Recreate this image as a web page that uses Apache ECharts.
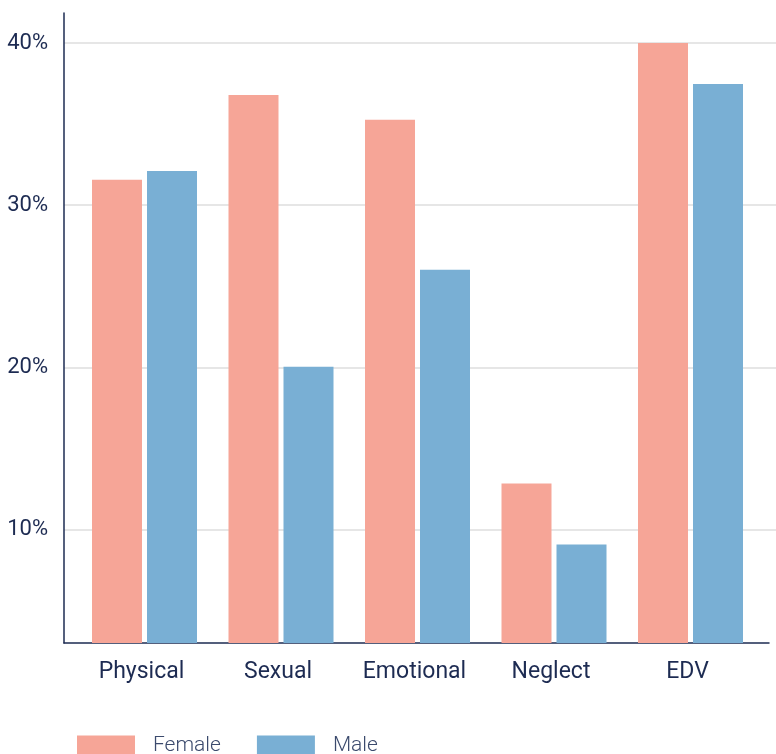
<!DOCTYPE html>
<html>
<head>
<meta charset="utf-8">
<script src="https://cdn.jsdelivr.net/npm/echarts@6/dist/echarts.min.js"></script>
<style>
html,body{margin:0;padding:0;background:#fff;}
#chart{width:776px;height:754px;}
</style>
</head>
<body>
<div id="chart"></div>
<script>
const categories = ['Physical', 'Sexual', 'Emotional', 'Neglect', 'EDV'];
const female = [31.56, 36.80, 35.26, 12.83, 40.00];
const male = [32.11, 20.04, 26.02, 9.07, 37.47];
const yTicks = [10, 20, 30, 40];
const seriesNames = ['Female', 'Male'];

const Y_MIN = 3, Y_MAX = 41.85;
const NAVY = '#1d2b52';
const FONT = 'Roboto';

const chart = echarts.init(document.getElementById('chart'), null, {renderer: 'canvas'});
chart.setOption({
  animation: false,
  backgroundColor: '#ffffff',
  textStyle: {fontFamily: FONT},
  grid: [
    {left: 64, right: 0, top: 13, bottom: 111},
    {left: 64, right: 7, top: 13, bottom: 111},
    {left: 76.25, right: 17.25, top: 13, bottom: 111}
  ],
  legend: {
    data: seriesNames,
    left: 77, top: 735, padding: 0,
    icon: 'rect',
    itemWidth: 58, itemHeight: 20, itemGap: 36,
    textStyle: {fontFamily: FONT, fontSize: 21, fontWeight: 300, color: '#3b4a6d', padding: [0, 0, 0, 13]}
  },
  xAxis: [
    {gridIndex: 0, type: 'value', min: 0, max: 1, show: false},
    {gridIndex: 1, type: 'value', min: 0, max: 1,
     axisLine: {show: true, lineStyle: {color: NAVY, width: 1.5}},
     axisTick: {show: false}, axisLabel: {show: false}, splitLine: {show: false}},
    {gridIndex: 2, type: 'category', data: categories,
     axisLine: {show: false}, axisTick: {show: false},
     axisLabel: {fontFamily: FONT, fontSize: 23, color: NAVY, margin: 18, padding: [0, 6, 0, 0]}}
  ],
  yAxis: [
    {gridIndex: 0, type: 'value', min: Y_MIN, max: Y_MAX,
     axisLine: {show: true, lineStyle: {color: NAVY, width: 1.5}},
     axisTick: {show: false, customValues: yTicks},
     axisLabel: {customValues: yTicks, formatter: '{value}%', fontFamily: FONT, fontSize: 22, color: NAVY, margin: 16},
     splitLine: {show: true, lineStyle: {color: '#dedede', width: 1.5}}},
    {gridIndex: 1, type: 'value', min: Y_MIN, max: Y_MAX, show: false},
    {gridIndex: 2, type: 'value', min: Y_MIN, max: Y_MAX, show: false}
  ],
  series: [
    {name: seriesNames[0], type: 'bar', xAxisIndex: 2, yAxisIndex: 2, data: female,
     barWidth: 50, barGap: '10%', itemStyle: {color: '#f6a597'}},
    {name: seriesNames[1], type: 'bar', xAxisIndex: 2, yAxisIndex: 2, data: male,
     barWidth: 50, barGap: '10%', itemStyle: {color: '#79afd4'}}
  ]
});
</script>
</body>
</html>
